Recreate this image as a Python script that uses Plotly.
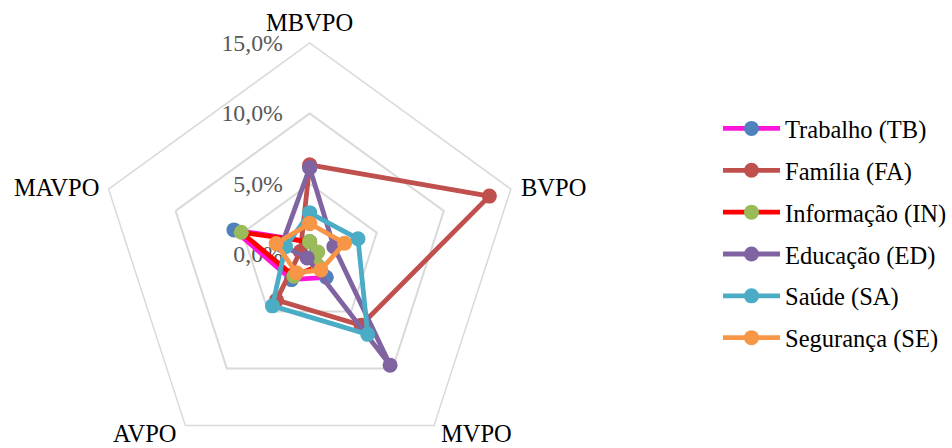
import math
import plotly.graph_objects as go

# Radar axes (clockwise from the top)
axes = ["MBVPO", "BVPO", "MVPO", "AVPO", "MAVPO"]

# Share of each theme per axis (%)
trabalho = [0.9, 0.5, 2.0, 2.2, 5.65]
familia = [6.35, 13.4, 6.2, 4.0, 0.7]
informacao = [0.9, 0.6, 1.0, 1.9, 5.1]
educacao = [6.15, 1.8, 9.7, 0.3, 2.1]
saude = [2.95, 3.6, 7.0, 4.5, 1.8]
seguranca = [2.2, 2.6, 1.35, 1.6, 2.5]

radial_ticks = [0, 5, 10, 15]
radial_tick_labels = ["0,0%", "5,0%", "10,0%", "15,0%"]

series = [
    ("Trabalho (TB)", trabalho, "#FF14DC", "#4F81BD"),
    ("Família (FA)", familia, "#C0504D", "#C0504D"),
    ("Informação (IN)", informacao, "#FF0000", "#9BBB59"),
    ("Educação (ED)", educacao, "#8064A2", "#8064A2"),
    ("Saúde (SA)", saude, "#4BACC6", "#4BACC6"),
    ("Segurança (SE)", seguranca, "#F79646", "#F79646"),
]

FONT = "Liberation Serif, Times New Roman, serif"
GRID = "#D9D9D9"

fig = go.Figure()
for i, (name, vals, line_col, mark_col) in enumerate(series):
    fig.add_trace(go.Scatterpolar(
        r=vals + vals[:1],
        theta=axes + axes[:1],
        name=name,
        legendgroup=f"g{i}",
        mode="lines+markers",
        line=dict(color=line_col, width=4.8),
        marker=dict(color=mark_col, size=15),
    ))

# Canvas and polar geometry (pixels)
W, H = 952, 466
T, B = 43, 0
cx, R = 309.7, 211.5
cy = T + R
plot_h = H - T - B


def px_to_paper(x, y):
    return x / W, (H - B - y) / plot_h


# Axis names placed just outside each pentagon vertex: (dx, dy, xanchor)
name_offsets = {
    "MBVPO": (0, -21, "center"),
    "BVPO": (8, -2, "left"),
    "MVPO": (5, 8, "left"),
    "AVPO": (-6, 8, "right"),
    "MAVPO": (-8, -2, "right"),
}
annotations = []
for k, name in enumerate(axes):
    ang = math.radians(90 - 72 * k)
    vx = cx + R * math.cos(ang)
    vy = cy - R * math.sin(ang)
    dx, dy, xa = name_offsets[name]
    px, py = px_to_paper(vx + dx, vy + dy)
    annotations.append(dict(
        x=px, y=py, xref="paper", yref="paper", text=name, showarrow=False,
        xanchor=xa, yanchor="middle",
        font=dict(family=FONT, size=24.5, color="black"),
    ))

lx, ly = px_to_paper(718, 106)
fig.update_layout(
    width=W, height=H,
    margin=dict(l=0, r=0, t=T, b=B),
    paper_bgcolor="white",
    plot_bgcolor="white",
    font=dict(family=FONT, size=24, color="black"),
    polar=dict(
        domain=dict(x=[(cx - R) / W, (cx + R) / W], y=[0, 1]),
        bgcolor="white",
        gridshape="linear",
        angularaxis=dict(
            rotation=90, direction="clockwise",
            showgrid=False, showline=True, linecolor=GRID, linewidth=1.5,
            ticks="", showticklabels=False,
        ),
        radialaxis=dict(
            range=[0, 15], angle=90, side="counterclockwise",
            tickvals=radial_ticks, ticktext=radial_tick_labels,
            showline=False, gridcolor=GRID, gridwidth=1.5,
            ticks="outside", ticklen=18, tickcolor="rgba(0,0,0,0)",
            tickfont=dict(family=FONT, size=23.8, color="#595959"),
            tickangle=90, layer="below traces",
        ),
    ),
    annotations=annotations,
    legend=dict(
        x=lx, y=ly, xanchor="left", yanchor="top",
        font=dict(family=FONT, size=24.5, color="black"),
        tracegroupgap=7, itemwidth=57,
        bgcolor="rgba(0,0,0,0)",
    ),
    showlegend=True,
)

fig.write_html("out.html")
